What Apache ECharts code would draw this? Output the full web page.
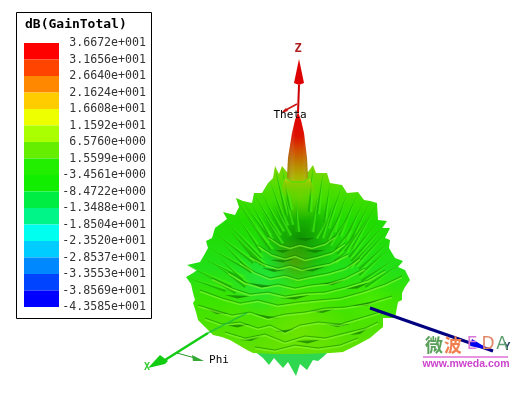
<!DOCTYPE html>
<html><head><meta charset="utf-8">
<style>html,body{margin:0;padding:0;background:#fff}#c{width:531px;height:393px;filter:blur(0.4px)}</style>
<script src="https://cdn.jsdelivr.net/npm/echarts@6/dist/echarts.min.js"></script>
</head><body><div id="c"></div>
<script>
const legendTitle = 'dB(GainTotal)';
const tickLabels = ['3.6672e+001','3.1656e+001','2.6640e+001','2.1624e+001','1.6608e+001','1.1592e+001','6.5760e+000','1.5599e+000','-3.4561e+000','-8.4722e+000','-1.3488e+001','-1.8504e+001','-2.3520e+001','-2.8537e+001','-3.3553e+001','-3.8569e+001','-4.3585e+001'];
const bandColors = ['#ff0000','#ff4400','#ff8800','#ffcc00','#eeff00','#aaff00','#66ee00','#22ee00','#11ee00','#00ee44','#00f588','#00ffee','#00ccff','#0088ff','#0044ff','#0000ff'];

// silhouette of the gain surface
const bodyOutline = [[287,172],[282,166],[279,174],[275,166],[273,178],[268,183],[262,193],[254,193],[252,203],[243,201],[236,198],[239,207],[235,215],[223,212],[227,219],[223,222],[215,228],[212,238],[206,241],[208,248],[203,257],[200,262],[187,265],[197,270],[193,273],[186,277],[191,284],[193,293],[195,300],[193,303],[196,312],[198,320],[205,327],[213,335],[222,337],[230,340],[247,350],[253,353],[275,354],[300,354],[330,353],[343,352],[357,345],[370,338],[377,332],[383,327],[383,318],[395,318],[398,302],[402,300],[402,293],[405,287],[410,280],[405,270],[398,267],[403,261],[395,258],[389,248],[390,240],[385,238],[390,228],[382,228],[387,221],[378,220],[377,203],[370,201],[364,200],[358,192],[347,193],[342,185],[330,183],[327,173],[323,173],[316,173],[313,165],[308,172]];
const lowerLobe = [[253,350],[263,358],[269,365],[274,358],[283,368],[288,362],[296,376],[300,364],[307,370],[313,360],[318,361],[323,357],[330,350]];
const beamOutline = [[298,112],[295,120],[292,133],[288,158],[287,178],[292,181],[303,181],[308,178],[307,158],[304,133],[301,120]];
const collar = [[285,178],[292,183],[304,183],[310,178],[315,192],[306,200],[290,200],[281,192]];
// soft shading patches: x, y, radius, colour
const patches = [[300,238,44,'rgba(10,120,0,0.75)'],[294,262,24,'rgba(100,150,0,0.65)'],[262,282,38,'rgba(30,230,90,0.55)'],[300,330,48,'rgba(125,230,0,0.6)'],[240,325,28,'rgba(90,230,0,0.5)'],[370,300,26,'rgba(85,240,0,0.5)'],[300,195,26,'rgba(125,210,0,0.65)']];
// spike tips on the rim and where they fade inward: x1,y1,x2,y2
const spikes = [[225,220,262,258],[236,199,268,244],[243,202,272,240],[254,194,280,236],[262,194,283,232],[270,181,287,226],[275,168,287,215],[282,167,291,210],[214,232,254,262],[208,247,250,270],[203,258,244,278],[188,266,232,286],[186,277,226,290],[252,204,270,236],[236,214,262,252],[228,228,258,262],[220,240,252,272],[218,256,248,284],[313,166,310,212],[323,174,318,214],[330,184,325,222],[342,186,328,228],[347,194,334,232],[358,193,340,236],[364,201,346,240],[370,202,350,244],[377,204,352,250],[378,221,350,258],[387,222,352,262],[390,229,356,266],[390,241,360,270],[389,249,360,276],[395,259,362,282],[403,262,366,288],[350,215,330,245],[365,225,338,255],[335,200,322,238],[355,245,335,262],[232,232,262,264],[245,215,272,250],[260,208,282,244],[272,200,290,236],[296,200,298,232],[318,195,312,232],[345,205,328,240],[372,212,346,252],[380,235,350,268],[212,262,246,286],[200,272,236,292],[240,240,266,266],[355,225,336,250],[330,215,316,238],[285,195,292,225]];
// wavy rows of scales on the lower surface
const rows = [
 [[268,236],[280,244],[290,247],[300,244],[312,247],[325,243],[335,236]],
 [[258,245],[272,254],[285,258],[295,255],[305,259],[318,256],[332,252],[345,243]],
 [[250,256],[265,264],[278,268],[290,265],[302,269],[315,266],[330,263],[348,254]],
 [[240,262],[255,272],[270,278],[285,275],[298,279],[312,276],[328,273],[345,268],[360,258]],
 [[228,272],[245,282],[262,287],[278,284],[295,288],[310,285],[328,283],[345,278],[365,268]],
 [[212,278],[232,288],[250,294],[268,292],[285,296],[305,293],[325,292],[345,287],[368,280],[385,270]],
 [[200,290],[222,298],[240,303],[258,300],[278,305],[298,302],[318,300],[340,298],[362,292],[385,284],[402,276]],
 [[198,305],[215,310],[232,315],[250,312],[268,318],[285,314],[305,312],[325,308],[345,307],[368,303],[392,296]],
 [[205,318],[222,324],[240,322],[258,328],[270,325],[285,332],[300,325],[318,322],[340,324],[360,318],[380,312]],
 [[225,332],[245,338],[265,334],[285,342],[305,336],[325,338],[345,333],[365,328],[378,322]],
 [[255,347],[275,350],[295,345],[318,348],[340,345],[358,338]]
];
// dark undersides of individual scales: x1,y1,x2,y2
const scaleShadows = [[262,268,285,270],[300,270,325,267],[250,283,272,286],[320,284,345,280],[225,295,250,296],[280,298,310,295],[345,289,370,282],[205,308,228,314],[255,314,280,318],[310,311,335,309],[352,306,380,300],[225,325,250,324],[275,331,295,329],[325,324,350,324],[240,340,262,336],[295,341,320,340],[350,335,370,327],[270,260,295,259],[305,250,325,250],[275,250,290,250],[296,238,315,238]];
// axes of the 3D view: colour, width, points
const axisLines = [
 ['rgba(30,190,60,.8)',1.5,[[247,313],[208,333]]],
 ['#11cc11',2.5,[[208,333],[165,360]]],
 ['#229922',1,[[177,353],[195,358]]],
 ['#000080',3,[[370,308],[493,351]]],
 ['#e070d8',1.5,[[423,357],[508,357]]]
];
const axisHeads = [
 ['#11cc11',[[148,368],[160,355],[168,361],[165,364]]],
 ['#33aa33',[[204,361],[192,355],[193,361]]],
 ['#0000ee',[[490,350],[472,339],[470,346]]]
];
const zAxisLines = [['#cc0000',2,[[299,85],[298,113]]],['#cc1111',1.5,[[297,104],[284,111]]]];
const zAxisHeads = [['#dd0000',[[299,59],[304,83],[299,85],[294,83]]],['#cc1111',[[281,113],[286,108],[288,111]]]];
const texts = [
 [legendTitle,25,25,'#000','bold 13px "DejaVu Sans Mono"','left'],
 ['Z',298,49,'#b02020','bold 12px "DejaVu Sans Mono"','center'],
 ['Theta',290,115,'#000','11px "DejaVu Sans Mono"','center'],
 ['Phi',219,360,'#000','11px "DejaVu Sans Mono"','center'],
 ['X',147,367,'#33cc33','bold 10px "DejaVu Sans Mono"','center'],
 ['Y',507,347,'#204060','bold 11px "DejaVu Sans Mono"','center'],
 ['微',434,345,'#5aa05a','bold 18px "Noto Sans CJK SC"','center'],
 ['波',453,345,'#f08050','bold 18px "Noto Sans CJK SC"','center'],
 ['E',472,345,'#d878d8','17px "DejaVu Sans"','center'],
 ['D',488,345,'#e08868','17px "DejaVu Sans"','center'],
 ['A',502,345,'#60a070','17px "DejaVu Sans"','center'],
 ['www.mweda.com',466,364,'#cc44cc','bold 10.5px "Liberation Sans"','center']
];

const pts=(a,api)=>a.map(p=>api.coord(p));
const G=echarts.graphic;
const bodyFill=new G.LinearGradient(0,0,0,1,[{offset:0,color:'#88d400'},{offset:.12,color:'#4ede00'},{offset:.3,color:'#20dc00'},{offset:.55,color:'#22e018'},{offset:.72,color:'#3ce400'},{offset:1,color:'#62e000'}]);
const beamFill=new G.LinearGradient(0,0,0,1,[{offset:0,color:'#e00000'},{offset:.35,color:'#dd1100'},{offset:.55,color:'#d04c00'},{offset:.8,color:'#b89000'},{offset:1,color:'#a4c000'}]);
const beamShade=new G.LinearGradient(0,0,1,0,[{offset:0,color:'rgba(90,60,0,.3)'},{offset:.4,color:'rgba(255,255,255,0)'},{offset:.75,color:'rgba(255,255,255,0)'},{offset:1,color:'rgba(90,60,0,.25)'}]);
const collarFill=new G.LinearGradient(0,0,0,1,[{offset:0,color:'#b8dc20'},{offset:.2,color:'#90cc00'},{offset:1,color:'rgba(90,210,0,0)'}]);
const series=(items,draw,ax)=>({type:'custom',coordinateSystem:'cartesian2d',xAxisIndex:ax||0,yAxisIndex:ax||0,clip:false,silent:true,animation:false,
  data:items.map((_,i)=>[0,0,i]),renderItem:(p,api)=>draw(items[p.dataIndex],api,p.dataIndex)});
const poly=(a,api,fill,extra)=>({type:'polygon',shape:{points:pts(a,api)},style:Object.assign({fill},extra||{})});
const line=(a,api,stroke,w)=>({type:'polyline',shape:{points:pts(a,api)},style:{fill:null,stroke,lineWidth:w}});

const opt={
 animation:false,backgroundColor:'#fff',
 grid:[{left:0,top:0,width:531,height:393,show:false},{left:24,top:43,width:35,height:264,show:false}],
 xAxis:[{type:'value',gridIndex:0,min:0,max:531,show:false},{type:'value',gridIndex:1,min:0,max:1,show:false}],
 yAxis:[{type:'value',gridIndex:0,min:0,max:393,inverse:true,show:false},
  {type:'value',gridIndex:1,min:0,max:16,interval:1,inverse:true,position:'right',axisLine:{show:false},axisTick:{show:false},splitLine:{show:false},
   axisLabel:{show:true,showMinLabel:true,showMaxLabel:true,align:'right',margin:87,padding:[2,0,0,0],color:'#333',fontFamily:'DejaVu Sans Mono',fontSize:11.6,formatter:v=>tickLabels[v]}}],
 series:[
  series([[16,12,151,318]],(r,api)=>{const a=api.coord([r[0],r[1]]),b=api.coord([r[2],r[3]]);
    return {type:'rect',shape:{x:a[0]+.5,y:a[1]+.5,width:b[0]-a[0],height:b[1]-a[1]},style:{fill:null,stroke:'#000',lineWidth:1}}}),
  series(bandColors,(c,api,i)=>{const a=api.coord([0,i]),b=api.coord([1,i+1]);
    return {type:'rect',shape:{x:a[0],y:a[1],width:b[0]-a[0],height:b[1]-a[1]},style:{fill:c}}},1),
  series([lowerLobe],(a,api)=>poly(a,api,'#30d850')),
  series([bodyOutline],(a,api)=>poly(a,api,bodyFill)),
  series(patches,(p,api)=>{const c=api.coord([p[0],p[1]]);const col=p[3];const clear=col.replace(/[\d.]+\)$/,'0)');
    return {type:'circle',shape:{cx:c[0],cy:c[1],r:p[2]},clipPath:{type:'polygon',shape:{points:pts(bodyOutline,api)}},style:{fill:new G.RadialGradient(.5,.5,.5,[{offset:0,color:col},{offset:1,color:clear}])}}}),
  series(spikes,(s,api)=>{const t=api.coord([s[0],s[1]]),b=api.coord([s[2],s[3]]);const dx=b[0]-t[0],dy=b[1]-t[1],L=Math.hypot(dx,dy),nx=-dy/L*2.4,ny=dx/L*2.4;
    return {type:'group',children:[
     {type:'polygon',shape:{points:[t,[b[0]+nx,b[1]+ny],[b[0]-nx,b[1]-ny]]},style:{fill:'rgba(70,245,20,.6)'}},
     {type:'polygon',shape:{points:[t,[b[0]+nx,b[1]+ny],b]},style:{fill:'rgba(10,140,0,.55)'}}]}}),
  series(scaleShadows,(s,api)=>{const a=api.coord([s[0],s[1]]),b=api.coord([s[2],s[3]]);const m=[(a[0]+b[0])/2,(a[1]+b[1])/2+3];
    return {type:'polygon',shape:{points:[a,m,b]},style:{fill:'rgba(15,120,0,.7)'}}}),
  series(rows,(r,api)=>({type:'group',children:[
     {type:'polyline',y:1.5,shape:{points:pts(r,api)},style:{fill:null,stroke:'rgba(140,250,50,.6)',lineWidth:1.4}},
     line(r,api,'rgba(15,135,0,.6)',1)]})),
  series(axisLines,(l,api)=>line(l[2],api,l[0],l[1])),
  series(axisHeads,(h,api)=>poly(h[1],api,h[0])),
  series(zAxisLines,(l,api)=>line(l[2],api,l[0],l[1])),
  series(zAxisHeads,(h,api)=>poly(h[1],api,h[0])),
  series([collar],(a,api)=>poly(a,api,collarFill)),
  series([beamOutline],(a,api)=>({type:'group',children:[poly(a,api,beamFill),poly(a,api,beamShade)]})),
  series(texts,(t,api)=>{const c=api.coord([t[1],t[2]]);
    return {type:'text',style:{text:t[0],x:c[0],y:c[1],fill:t[3],font:t[4],textAlign:t[5],textVerticalAlign:'middle'}}})
 ]
};
echarts.init(document.getElementById('c'),null,{renderer:'canvas'}).setOption(opt);
</script></body></html>
